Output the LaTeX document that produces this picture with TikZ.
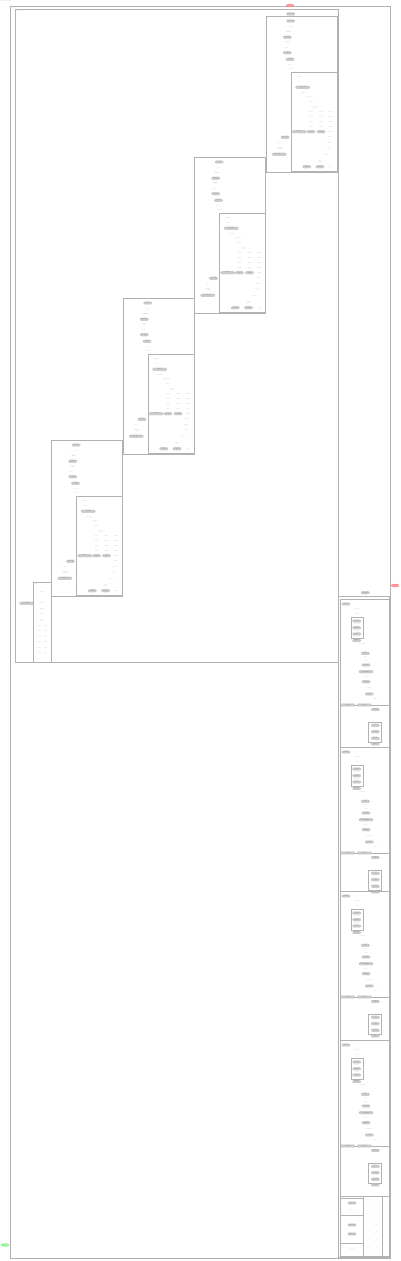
\documentclass[tikz,border=0pt]{standalone}
\usetikzlibrary{shapes.misc,shapes.geometric}
\tikzset{
  clus/.style={draw=gray!60, line width=0.3pt},
  op/.style={draw=gray!60, fill=gray!40, rounded rectangle, line width=0.2pt,
    inner sep=0.3pt, minimum width=0.45cm, minimum height=0.14cm, text=gray!80!black},
  wop/.style={op, minimum width=0.75cm},
  txt/.style={inner sep=0pt, text=gray!60},
  clab/.style={txt, anchor=north west},
  term/.style={ellipse, draw=red!60, fill=red!40, line width=0.2pt, minimum width=0.4cm, minimum height=0.15cm, inner sep=0pt},
}
% one stair step of the unrolled graph
\newcommand\stage[3]{%
\begin{scope}[shift={(#2,#3)}]
  \draw[clus] (0,0) rectangle (71,156);
  \node[clab] (#1-lab) at (1,0.6) {block};
  \node[op] (#1-a) at (24.7,5) {load};
  \node[txt] (#1-b) at (24,10.7) {cast};
  \node[txt] (#1-c) at (22.6,16) {shape\\[-1.5pt]slice};
  \node[op] (#1-d) at (21.3,21.3) {reshape};
  \node[txt] (#1-e) at (21.3,26.5) {mean\\[-1.5pt]sub};
  \node[txt] (#1-f) at (20,31.7) {pad};
  \node[op] (#1-g) at (21.3,36.7) {conv};
  \node[op] (#1-h) at (24,43.3) {relu};
  \node[txt] (#1-i) at (24,49) {pool};
  \node[txt] (#1-j) at (25,53) {norm};
  % inner loop
  \draw[clus] (25,56) rectangle (71,155);
  \node[clab] (#1-sub) at (26,56.6) {loop};
  \node[txt] (#1-k) at (33,61) {iter\\[-1.5pt]cond};
  \node[txt] (#1-l) at (34,65.7) {less};
  \node[wop] (#1-m) at (36.7,71.3) {switch};
  \node[txt] (#1-n) at (37.3,76.7) {ident};
  \node[txt] (#1-o) at (43.3,81.3) {gather};
  \node[txt] (#1-p) at (44.7,85.7) {split};
  \node[txt] (#1-q) at (49,91.3) {concat\\[-1.5pt]axis};
  \foreach \r/\y in {1/95.7,2/100.7,3/105.7,4/110.7}
    \foreach \c/\x in {1/45,2/55,3/64.7}
      \node[txt] (#1-g\r\c) at (\x,\y) {mul};
  \node[wop] (#1-r) at (33.3,115.7) {merge};
  \node[op] (#1-s) at (45,115.7) {add};
  \node[op] (#1-t) at (55,115.7) {add};
  \node[txt] (#1-u) at (64.7,115.7) {tanh};
  \node[txt] (#1-v) at (64,121.3) {sigm};
  \node[txt] (#1-w) at (63.3,127.3) {mul};
  \node[txt] (#1-x) at (62.3,132.3) {add};
  \node[txt] (#1-y) at (60,139) {next};
  \node[txt] (#1-z) at (54,145.7) {exit\\[-1.5pt]iter};
  \node[op] (#1-o1) at (40.7,150.7) {exit};
  \node[op] (#1-o2) at (54,150.7) {exit};
  \node[txt] (#1-o3) at (64.7,150.7) {exit};
  % outputs
  \node[op] (#1-p1) at (19,121.3) {stack};
  \node[txt] (#1-p2) at (13.3,127.3) {size};
  \node[txt] (#1-p3) at (14,132.3) {gather\\[-1.5pt]range};
  \node[wop] (#1-p4) at (13.3,138.3) {transpose};
\end{scope}}
% one block of the right column
\newcommand\rblock[3]{%
\begin{scope}[shift={(340,#2)}]
  \draw[clus] (0,0) rectangle (49,#3);
  \node[clab] (#1-lab) at (0.6,0.6) {grad};
  \node[op] (#1-a) at (6,5) {fill};
  \node[txt] (#1-b) at (17.3,10.3) {shape};
  \node[txt] (#1-c) at (17.3,15) {ones};
  \draw[clus] (10.7,17.7) rectangle (22.7,39.3);
  \node[op] (#1-d) at (16.7,22) {sum};
  \node[txt] (#1-e) at (16.7,25.4) {grad};
  \node[op] (#1-f) at (16.7,28.7) {mul};
  \node[txt] (#1-g) at (16.7,31.8) {grad};
  \node[op] (#1-h) at (16.7,35) {add};
  \node[op] (#1-i) at (16.7,41.5) {shape};
  \node[txt] (#1-j) at (22.7,45) {reshape};
  \node[op] (#1-k) at (25.3,54.3) {tile};
  \node[txt] (#1-l) at (25.3,58) {div};
  \node[txt] (#1-m) at (26,62.7) {neg};
  \node[op] (#1-n) at (26,66) {mul};
  \node[wop] (#1-o) at (26,72.7) {matmul};
  \node[txt] (#1-p) at (26,77.7) {trans};
  \node[op] (#1-q) at (26,82.7) {sum};
  \node[txt] (#1-r) at (29.3,89.3) {reshape};
  \node[op] (#1-s) at (29.3,95) {add};
  \node[txt] (#1-t) at (35.3,100.3) {ident};
  % accumulator loop
  \draw[clus] (0,106) rectangle (49,#3);
  \node[wop] (#1-u) at (7.7,106) {switch};
  \node[wop] (#1-v) at (24.3,106) {merge};
  \node[op] (#1-w) at (35.3,110.5) {enter};
  \draw[clus] (27.7,122.7) rectangle (41,142.7);
  \node[op] (#1-x) at (35.3,126.3) {acc};
  \node[op] (#1-y) at (35.3,132.7) {add};
  \node[op] (#1-z) at (35.3,139.3) {next};
  \node[op] (#1-e1) at (35.3,145) {exit};
\end{scope}}
\begin{document}
\begin{tikzpicture}[x=0.05cm, y=-0.05cm, font=\fontsize{2.2}{2.6}\selectfont, align=center]
  \useasboundingbox (0,0) rectangle (400,1261);
  \node[txt, anchor=north west] (title) at (0.5,0.5) {main graph};
  % outer frame
  \draw[clus] (10,6.5) rectangle (390,1258);
  \node[clab] (outer-lab) at (11,7) {root};
  \node[term] (sink) at (290,5.5) {};
  \node[txt] (sink-lab) at (290,13.5) {output};
  \node[term] (sink2) at (395,585.5) {};
  \node[ellipse, draw=green!60!black!50, fill=green!45, line width=0.2pt, minimum width=0.4cm, minimum height=0.15cm, inner sep=0pt] (src) at (5,1245) {};
  % forward part
  \draw[clus] (15,9.5) rectangle (338,662);
  \node[clab] (fwd-lab) at (16,10) {forward};
  \node[op] (top) at (290.7,14) {concat};
  \stage{s1}{266}{16}
  \stage{s2}{194.5}{157}
  \stage{s3}{123}{298}
  \stage{s4}{51.5}{440}
  % final step
  \draw[clus] (33.3,582.3) rectangle (51,661.7);
  \node[clab] (fin-lab) at (34,583) {out};
  \node[txt] (fin-a) at (41.7,591.7) {sum};
  \foreach \i/\y in {1/603.3,2/609.3,3/614}
    \node[txt] (fin-b\i) at (41.7,\y) {mul};
  \node[txt] (fin-c) at (41.7,621) {add\\[-1.5pt]log};
  \foreach \i/\y in {1/626,2/631.7,3/636.7,4/642.3,5/648.3,6/653.3}
    {\node[txt] (fin-l\i) at (39,\y) {neg};
     \node[txt] (fin-r\i) at (45.7,\y) {exp};}
  \node[txt] (fin-d) at (39,659.3) {loss};
  \node[wop] (fin-in) at (26.7,603.3) {softmax};
  \node[txt] (fin-q) at (12.3,607.3) {y};
  % backward part
  \node[op] (bwd-top) at (365.3,592.7) {grads};
  \draw[clus] (337.7,595.7) rectangle (389.5,1257);
  \node[clab] (bwd-lab) at (338.5,596.2) {backward};
  \rblock{r1}{599}{148}
  \rblock{r2}{747}{144}
  \rblock{r3}{891}{149}
  \rblock{r4}{1040}{156}
  % last block
  \draw[clus] (340,1196) rectangle (389,1256);
  \draw[clus] (363,1196) -- (363,1256);
  \draw[clus] (381.7,1196) -- (381.7,1256);
  \draw[clus] (340,1198) rectangle (363,1215);
  \draw[clus] (340,1215) rectangle (363,1243);
  \node[op] (r5-a) at (352,1203) {init};
  \node[txt] (r5-b) at (352,1210) {zeros};
  \node[op] (r5-c) at (352,1225) {apply};
  \node[op] (r5-d) at (352,1234) {update};
  \node[txt] (r5-e) at (352,1249) {step};
  \foreach \i/\y in {1/1200,2/1207,3/1214,4/1222,5/1232,6/1240,7/1248,8/1255}
    \node[txt] (r5-l\i) at (368,\y) {var};
  \foreach \i/\y in {1/1225,2/1232,3/1240,4/1248}
    \node[txt] (r5-r\i) at (376.7,\y) {lr};
\end{tikzpicture}
\end{document}
